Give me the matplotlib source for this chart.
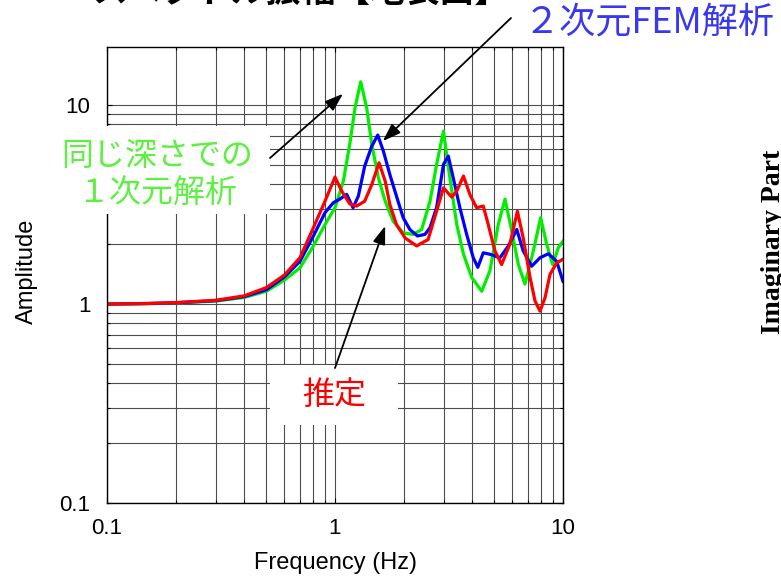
import matplotlib
matplotlib.use('Agg')
import matplotlib.pyplot as plt
from matplotlib.patches import Rectangle
from matplotlib.ticker import FuncFormatter, NullFormatter

plt.rcParams['font.family'] = ['Liberation Sans', 'Noto Sans CJK JP']

W, H = 781, 577

# 1D analysis at the same depth
green_f = [0.1, 0.15, 0.2, 0.3, 0.4, 0.5, 0.6, 0.702, 0.804, 0.904, 1.0, 1.088,
           1.16, 1.224, 1.296, 1.377, 1.45, 1.55, 1.66, 1.80, 1.99, 2.20, 2.40,
           2.61, 2.79, 2.99, 3.19, 3.42, 3.66, 3.98, 4.40, 4.78, 5.20, 5.57,
           5.96, 6.37, 6.81, 7.41, 7.98, 8.48, 9.01, 9.54, 10.0]
green_amp = [1.0, 1.005, 1.013, 1.035, 1.08, 1.16, 1.32, 1.52, 1.96, 2.51, 3.05,
             4.15, 6.34, 9.70, 13.1, 9.70, 6.34, 4.31, 3.29, 2.61, 2.28, 2.24,
             2.37, 3.29, 5.03, 7.40, 4.31, 2.51, 1.78, 1.36, 1.16, 1.47, 2.51,
             3.37, 2.33, 1.58, 1.26, 1.85, 2.72, 2.0, 1.58, 1.92, 2.07]

# 2D FEM analysis
blue_f = [0.1, 0.15, 0.2, 0.3, 0.4, 0.5, 0.6, 0.702, 0.804, 0.904, 0.983, 1.05,
          1.125, 1.20, 1.266, 1.35, 1.45, 1.54, 1.63, 1.74, 1.86, 1.99, 2.13,
          2.30, 2.48, 2.61, 2.79, 2.99, 3.14, 3.30, 3.53, 3.78, 4.04, 4.23, 4.47,
          4.78, 5.29, 5.76, 6.27, 6.69, 7.29, 7.93, 8.63, 9.38, 10.0]
blue_amp = [1.0, 1.006, 1.015, 1.04, 1.09, 1.18, 1.37, 1.64, 2.20, 2.88, 3.23,
            3.37, 3.56, 3.05, 3.49, 4.94, 6.22, 7.07, 5.87, 4.48, 3.49, 2.72,
            2.37, 2.20, 2.24, 2.42, 3.05, 5.03, 5.54, 4.31, 3.05, 2.24, 1.71,
            1.53, 1.81, 1.78, 1.71, 1.96, 2.37, 1.85, 1.55, 1.71, 1.79, 1.64, 1.30]

# estimated
red_f = [0.1, 0.15, 0.2, 0.3, 0.4, 0.5, 0.6, 0.702, 0.804, 0.904, 1.0, 1.07,
         1.16, 1.245, 1.35, 1.45, 1.56, 1.66, 1.74, 1.86, 2.03, 2.28, 2.56, 2.79,
         2.99, 3.25, 3.42, 3.66, 3.91, 4.18, 4.47, 4.70, 5.03, 5.38, 5.85, 6.31,
         6.69, 7.17, 7.54, 7.93, 8.34, 8.77, 9.38, 10.0]
red_amp = [1.0, 1.007, 1.017, 1.045, 1.10, 1.21, 1.40, 1.71, 2.42, 3.29, 4.35,
           3.70, 3.19, 3.11, 3.29, 3.99, 5.13, 4.15, 3.17, 2.51, 2.15, 1.96, 2.11,
           2.93, 3.84, 3.45, 3.70, 4.40, 3.54, 3.05, 3.11, 2.51, 1.85, 1.58, 2.0,
           2.93, 2.15, 1.36, 1.035, 0.922, 1.076, 1.41, 1.61, 1.68]

AX_L, AX_T, AX_S = 107, 47, 456


def to_axes(px, py):
    return (px - AX_L) / AX_S, (AX_T + AX_S - py) / AX_S


fig = plt.figure(figsize=(W / 100, H / 100), dpi=100)
ax = fig.add_axes([AX_L / W, 1 - (AX_T + AX_S) / H, AX_S / W, AX_S / H])
ax.set_xscale('log')
ax.set_yscale('log')
ax.set_xlim(0.1, 10)
ax.set_ylim(0.1, 19.6)

ax.plot(green_f, green_amp, color='#00ee00', lw=2.3, zorder=2)
ax.plot(blue_f, blue_amp, color='#0000ff', lw=2.3, zorder=2.1)
ax.plot(red_f, red_amp, color='#ff0000', lw=2.3, zorder=2.2)

ax.grid(True, which='both', color='0.3', lw=0.8)
ax.tick_params(which='both', direction='in', top=True, right=True,
               labelsize=16, width=0.8)
ax.tick_params(axis='y', pad=12)
ax.tick_params(axis='x', pad=11)
fmt = FuncFormatter(lambda v, p: f'{v:g}')
ax.xaxis.set_major_formatter(fmt)
ax.yaxis.set_major_formatter(fmt)
ax.xaxis.set_minor_formatter(NullFormatter())
ax.yaxis.set_minor_formatter(NullFormatter())
for s in ax.spines.values():
    s.set_linewidth(1.0)

fig.text(335 / W, 1 - 563 / H, 'Frequency (Hz)', fontsize=17,
         ha='center', va='center')
fig.text(27 / W, 1 - 271 / H, 'Amplitude', fontsize=17, rotation=90,
         ha='center', va='center')

# white backing boxes behind the callout labels
for x0, y0, x1, y1 in [(40, 126, 270, 214), (270, 365, 398, 425)]:
    ax0, ay0 = to_axes(x0, y1)
    ax1, ay1 = to_axes(x1, y0)
    ax.add_patch(Rectangle((ax0, ay0), ax1 - ax0, ay1 - ay0, transform=ax.transAxes,
                           fc='white', ec='none', zorder=2.6, clip_on=False))

gx, gy = to_axes(157, 174)
ax.text(gx, gy, '同じ深さでの\n１次元解析', transform=ax.transAxes,
        family='Noto Sans CJK JP', fontsize=23, color='#5cf040',
        ha='center', va='center', multialignment='center', zorder=3)
rx, ry = to_axes(334, 395)
ax.text(rx, ry, '推定', transform=ax.transAxes, family='Noto Sans CJK JP',
        fontsize=23, color='#ff0000', ha='center', va='center', zorder=3)
fig.text(524 / W, 1 - 22 / H, '２次元FEM解析', family=['Noto Sans CJK JP'],
         fontsize=26, color='#3838f0', ha='left', va='center')

arrow = dict(arrowstyle='-|>,head_length=1.1,head_width=0.38', color='black',
             lw=1.3, shrinkA=0, shrinkB=0)
ax.annotate('', xy=(1.084, 11.4), xytext=(270, H - 158), textcoords='figure pixels',
            arrowprops=arrow, annotation_clip=False, zorder=3)
ax.annotate('', xy=(1.62, 6.59), xytext=(511, H - 18), textcoords='figure pixels',
            arrowprops=arrow, annotation_clip=False, zorder=3)
ax.annotate('', xy=(1.66, 2.47), xytext=(335, H - 368), textcoords='figure pixels',
            arrowprops=arrow, annotation_clip=False, zorder=3)

# neighbouring panel titles cut by the frame
fig.text(92 / W, 1 - 2 / H, 'スペクトル振幅【地表面】', family=['Noto Sans CJK JP'],
         fontsize=25, fontweight='bold', ha='left', va='baseline')
fig.text(761 / W, 1 - 150 / H, 'Imaginary Part', family='Liberation Serif',
         fontsize=20, fontweight='bold', rotation=90, ha='left', va='top')

fig.savefig('out.png', dpi=100)
